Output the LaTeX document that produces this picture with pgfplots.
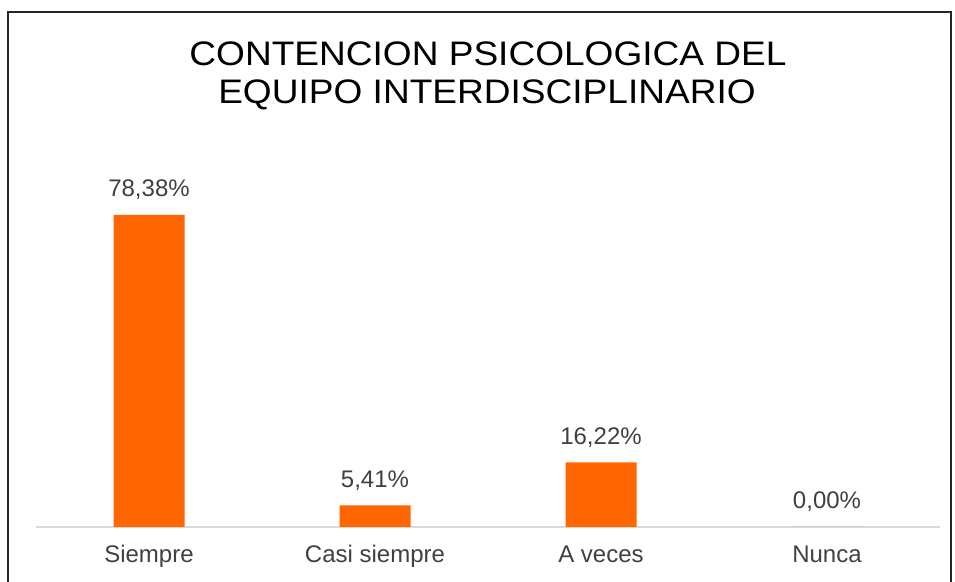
\documentclass[border=0pt]{standalone}
\usepackage{pgfplots}
\pgfplotsset{compat=1.18}
\usepackage{fontspec}
\setmainfont{Liberation Sans}
\definecolor{barorange}{HTML}{FF6600}
\definecolor{txtgray}{HTML}{404040}
\definecolor{axgray}{HTML}{D9D9D9}
\begin{document}
\begin{tikzpicture}[x=0.75pt,y=0.75pt]
\useasboundingbox (0,0) rectangle (955,581);
\coordinate (SW) at (36,54);
\draw[line width=1.6pt,black!85] (8,-10) -- (8,569) -- (951,569) -- (951,-10);
\node[anchor=base,inner sep=0,text=black] at (488,515) {\fontsize{25.5pt}{30pt}\selectfont\scalebox{1.09}[1]{CONTENCION PSICOLOGICA DEL}};
\node[anchor=base,inner sep=0,text=black] at (487,477) {\fontsize{25.5pt}{30pt}\selectfont\scalebox{1.09}[1]{EQUIPO INTERDISCIPLINARIO}};
\begin{axis}[
  at={(SW)}, anchor=south west,
  scale only axis,
  width=678pt, height=268.7pt,
  xmin=-0.5, xmax=3.5, ymin=0, ymax=90,
  axis y line=none,
  axis x line*=bottom,
  x axis line style={draw=axgray, line width=1pt, -},
  xtick=data,
  xticklabels={Siempre,Casi siempre,A veces,Nunca},
  major tick length=0pt,
  /pgf/number format/assume math mode=true,
  xticklabel style={anchor=base, yshift=-27pt, text=txtgray, font=\fontsize{18pt}{20pt}\selectfont},
  ybar, bar width=53.25pt,
  nodes near coords={\pgfmathprintnumber[fixed,fixed zerofill,precision=2,use comma,assume math mode=true]{\pgfplotspointmeta}\%},
  nodes near coords style={anchor=base, inner sep=0pt, yshift=13.5pt, text=txtgray, font=\fontsize{18pt}{20pt}\selectfont},
  clip=false,
]
\addplot[fill=barorange, draw=none] coordinates {(0,78.38) (1,5.41) (2,16.22) (3,0)};
\end{axis}
\end{tikzpicture}
\end{document}
